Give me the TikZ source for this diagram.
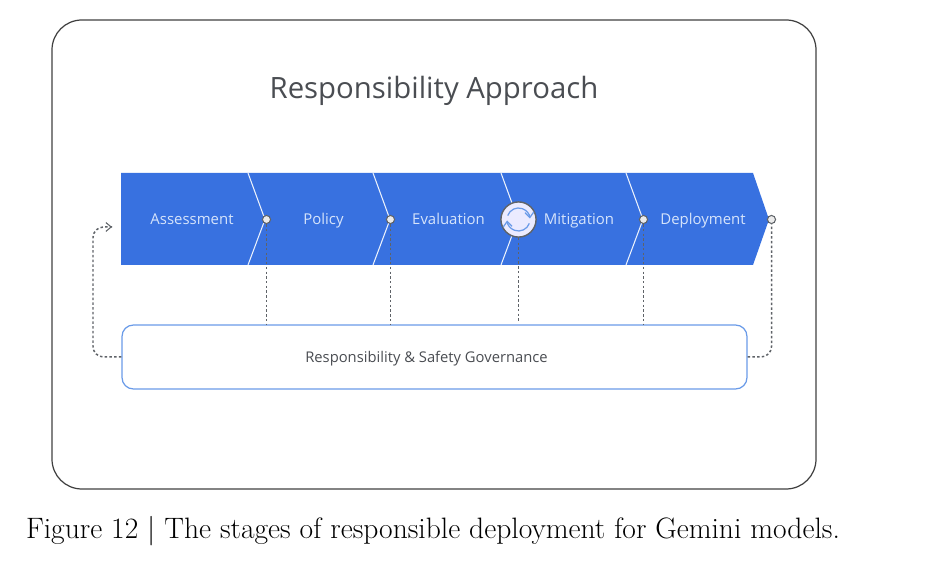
\documentclass[tikz,border=0pt]{standalone}
\usepackage{fontspec}
\setsansfont{Open Sans}
\usetikzlibrary{arrows.meta}
\definecolor{bandblue}{HTML}{3871E0}
\definecolor{govblue}{HTML}{6A9BE8}
\definecolor{stagetext}{HTML}{D6E4FB}
\definecolor{linegray}{HTML}{5F6368}
\definecolor{titlegray}{HTML}{4A4D52}
\begin{document}
\begin{tikzpicture}[
    >={Straight Barb[length=3pt,width=5pt]},
    stagenode/.style={text=stagetext, inner sep=1pt, anchor=base, font=\sffamily\fontsize{8.5}{10}\selectfont},
    dotnode/.style={circle, draw=linegray, fill=white!92!black, line width=0.6pt,
                    inner sep=0pt, minimum size=4.6pt},
    cutline/.style={white!90!bandblue, line width=0.6pt},
    govline/.style={linegray, line width=0.85pt,
                    dash pattern=on 1.4pt off 1.3pt},
    backline/.style={govline, rounded corners=6pt}
]
\useasboundingbox (0,0) rectangle (18.52,11.6);

% outer frame and band
\node[draw=black!75, line width=0.7pt, rounded corners=17pt, minimum width=15.28cm,
      minimum height=9.38cm, inner sep=0pt] (frame) at (8.68,6.51) {};
\fill[bandblue] (2.42,8.14) -- (15.06,8.14) -- (15.38,7.21) -- (15.06,6.30) -- (2.42,6.30) -- cycle;
\draw[cutline] (4.96,8.14) -- (5.30,7.21) -- (4.96,6.30);
\draw[cutline] (7.46,8.14) -- (7.80,7.21) -- (7.46,6.30);
\draw[cutline] (10.02,8.14) -- (10.36,7.21) -- (10.02,6.30);
\draw[cutline] (12.52,8.14) -- (12.86,7.21) -- (12.52,6.30);

\node[text=titlegray, inner sep=0pt, font=\sffamily\fontsize{16.7}{20}\selectfont]
  (title) at (8.68,9.78) {Responsibility Approach};

\node[stagenode] (assess) at (3.84,7.10) {Assessment};
\node[stagenode] (policy) at (6.47,7.10) {Policy};
\node[stagenode] (eval)   at (8.97,7.10) {Evaluation};
\node[stagenode] (mitig)  at (11.58,7.10) {Mitigation};
\node[stagenode] (deploy) at (14.06,7.10) {Deployment};

\node[dotnode] (dotA) at (5.33,7.21) {};
\node[dotnode] (dotB) at (7.81,7.21) {};
\node[dotnode] (dotD) at (12.87,7.21) {};
\node[dotnode] (dotE) at (15.43,7.21) {};

\node[circle, draw=linegray, fill=blue!8!white, line width=0.8pt,
      inner sep=0pt, minimum size=20pt] (sync) at (10.37,7.21) {};
\draw[->, govblue, line width=0.7pt] (sync.center) ++(160:0.23) arc[start angle=160, end angle=5, radius=0.23];
\draw[->, govblue, line width=0.7pt] (sync.center) ++(-20:0.23) arc[start angle=-20, end angle=-175, radius=0.23];

\node[draw=govblue, fill=white, line width=0.7pt, rounded corners=6.5pt,
      minimum width=12.5cm, minimum height=1.28cm, inner sep=0pt] (gov) at (8.69,4.46) {};
\node[text=titlegray, inner sep=0pt, font=\sffamily\fontsize{8.4}{10}\selectfont]
  (govtext) at (8.53,4.43) {Responsibility \& Safety Governance};

\draw[govline] (dotA.south) -- (dotA.south |- gov.north);
\draw[govline] (dotB.south) -- (dotB.south |- gov.north);
\draw[govline] (sync.south) -- ([yshift=2pt]sync.south |- gov.north);
\draw[govline] (dotD.south) -- (dotD.south |- gov.north);

\coordinate (backturn) at (1.86,7.06);
\coordinate (backin) at (2.24,7.06);
\draw[backline] (gov.west) -| (backturn) -- (backin);
\draw[->, linegray, line width=0.6pt] ([xshift=-1pt]backin) -- (backin);
\draw[backline] (gov.east) -| (dotE.south);

\node[inner sep=0pt, font=\fontsize{16.8}{20}\selectfont] (caption) at (8.66,0.98)
  {Figure 12 | The stages of responsible deployment for Gemini models.};

\end{tikzpicture}
\end{document}
